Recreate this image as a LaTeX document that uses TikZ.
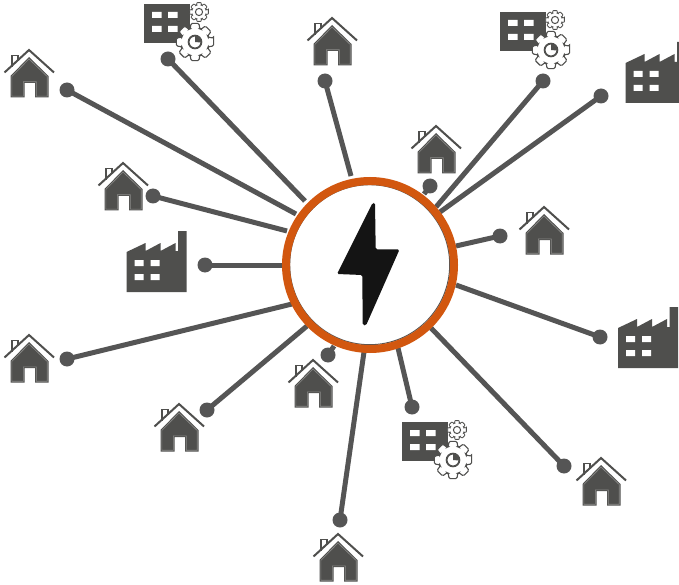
\documentclass[tikz,border=0pt]{standalone}
\definecolor{ink}{HTML}{4F4F4D}
\definecolor{inkline}{HTML}{555555}
\definecolor{edgegray}{HTML}{8C8C8A}
\definecolor{ringcol}{HTML}{D2570F}
\definecolor{boltcol}{HTML}{141414}
\tikzset{
  link/.style={draw=inkline,line width=5pt},
  dotnode/.style={circle,fill=inkline,minimum size=15pt,inner sep=0pt,outer sep=0pt},
  win/.style={fill=white},
  house/.pic={
    \fill[white] (-17.3,18) -- (-17.3,5.5) -- (-11,5.5) -- (-11,12) -- cycle;
    \draw[ink,line width=1.9pt] (-17.3,17) -- (-17.3,5.5) -- (-11,5.5) -- (-11,11);
    \draw[ink,line width=2pt] (-24.5,22.5) -- (0,0) -- (25,22.5);
    \fill[ink] (0,7) -- (-18.5,26) -- (-18.5,47.5) -- (-4.5,47.5) -- (-4.5,33) -- (6,33) -- (6,47.5) -- (19.5,47.5) -- (19.5,26) -- cycle;
    \draw[edgegray,line width=.6pt] (0,9) -- (-17.2,26.5) -- (-17.2,46.2) -- (-5.7,46.2) -- (-5.7,31.8) -- (7.2,31.8) -- (7.2,46.2) -- (18.2,46.2) -- (18.2,26.5) -- cycle;
  },
  factory/.pic={
    \fill[ink] (0,0) -- (0,-40) -- (19,-49) -- (19,-41) -- (34,-49) -- (34,-41) -- (49,-49) -- (49,-41) -- (51.5,-41) -- (51.5,-61) -- (60,-61) -- (60,0) -- cycle;
    \fill[win] (8,-32) rectangle (17,-26) (24,-32) rectangle (33,-26) (8,-18) rectangle (17,-12) (24,-18) rectangle (33,-12);
  },
  office/.pic={
    \fill[ink] (0,0) rectangle (46,39);
    \fill[win] (8,8) rectangle (17.5,14) (24,8) rectangle (33.5,14) (8,22) rectangle (17.5,28) (24,22) rectangle (33.5,28);
    \begin{scope}[shift={(55,8)}]
      \draw[ink,line width=.8pt,fill=white,rounded corners=.6pt]
        (-13:9.6) \foreach \a in {0,45,...,315}{ -- (\a-13:9.6) -- (\a+13:9.6) -- (\a+20:7.2) -- (\a+25:7.2) } -- cycle;
      \draw[ink,line width=1pt,fill=white] (0,0) circle (3.6);
    \end{scope}
    \begin{scope}[shift={(51,38)}]
      \draw[ink,line width=1.1pt,fill=white,rounded corners=1.2pt]
        (-12:19) \foreach \a in {0,45,...,315}{ -- (\a-12:19) -- (\a+12:19) -- (\a+20:14) -- (\a+25:14) } -- cycle;
      \draw[ink,line width=1.8pt,fill=white] (0,0) circle (6.4);
      \fill[ink] (0,0) -- (0,-6) arc (-90:5:6) -- cycle;
    \end{scope}
  },
}
\begin{document}
\begin{tikzpicture}[x=1pt,y=-1pt]
\clip[use as bounding box] (0,0) rectangle (679,585);
\fill[white] (0,0) rectangle (679,585);
% dots
\node[dotnode] (d1) at (67,90) {};
\node[dotnode] (d2) at (168,59) {};
\node[dotnode] (d3) at (325,81) {};
\node[dotnode] (d4) at (430,186) {};
\node[dotnode] (d5) at (543,81) {};
\node[dotnode] (d6) at (601,96) {};
\node[dotnode] (d7) at (500,236) {};
\node[dotnode] (d8) at (600,337) {};
\node[dotnode] (d9) at (564,466) {};
\node[dotnode] (d10) at (412,407) {};
\node[dotnode] (d11) at (340,520) {};
\node[dotnode] (d12) at (328,355) {};
\node[dotnode] (d13) at (207,410) {};
\node[dotnode] (d14) at (67,359) {};
\node[dotnode] (d15) at (205,265) {};
\node[dotnode] (d16) at (153,196) {};
% free ends at the hub
\coordinate (e1) at (296,214);
\coordinate (e2) at (305,201);
\coordinate (e3) at (351,176);
\coordinate (e4) at (424,194);
\coordinate (e5) at (436,207);
\coordinate (e6) at (440,212);
\coordinate (e7) at (456,246);
\coordinate (e8) at (456,285);
\coordinate (e9) at (431,328);
\coordinate (e10) at (398,348);
\coordinate (e11) at (364,352);
\coordinate (e12) at (334,346);
\coordinate (e13) at (307,326);
\coordinate (e14) at (292,304);
\coordinate (e15) at (283,265);
\coordinate (e16) at (287,231);
\foreach \i in {1,...,16}{ \draw[link] (d\i.center) -- (e\i); }
% hub
\draw[inkline,line width=1pt,fill=white] (369.7,264.7) circle (80);
\node[circle,draw=ringcol,line width=8pt,minimum size=168pt,inner sep=0pt,outer sep=0pt] (hub) at (370,265) {};
\fill[boltcol,rounded corners=1.5pt] (372.5,203) -- (375,203) -- (375.7,249.3) -- (399.5,249.5) -- (366,325.5) -- (362.7,325) -- (362.3,275) -- (337,274) -- cycle;
% icons
\foreach \p in {(29,50),(332,18),(123,163),(436,126),(544,207),(29,335),(179,404),(313,360),(601,458),(338,534)}
  \pic at \p {house};
\pic at (625.5,103) {factory};
\pic at (126.5,292) {factory};
\pic at (618,368) {factory};
\pic at (144,4) {office};
\pic at (500,12) {office};
\pic at (402,422) {office};
\end{tikzpicture}
\end{document}
